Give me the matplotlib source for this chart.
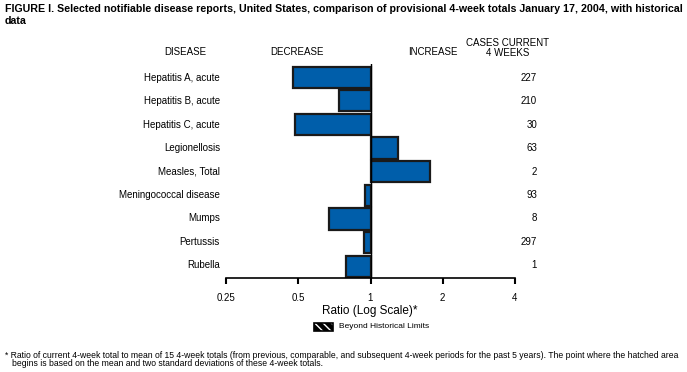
import matplotlib.pyplot as plt
from matplotlib.patches import Rectangle

# Datos del gráfico
diseases = ['Hepatitis A, acute', 'Hepatitis B, acute', 'Hepatitis C, acute',
            'Legionellosis', 'Measles, Total', 'Meningococcal disease',
            'Mumps', 'Pertussis', 'Rubella']
ratios = [0.475, 0.741, 0.485, 1.30, 1.77, 0.953, 0.673, 0.944, 0.793]
cases = [227, 210, 30, 63, 2, 93, 8, 297, 1]
ticks = [0.25, 0.5, 1, 2, 4]
tick_labels = ['0.25', '0.5', '1', '2', '4']

plt.rcParams['font.family'] = ['Liberation Sans', 'DejaVu Sans']
W, H = 687, 372
fig = plt.figure(figsize=(6.87, 3.72), dpi=100)

def fx(px):
    return px / W

def fy(py):
    return 1 - py / H

# Ejes del gráfico de barras (escala log base 2)
ax = fig.add_axes([fx(226), fy(278), fx(515) - fx(226), fy(64) - fy(278)])
ax.set_xscale('log', base=2)
ax.set_xlim(0.25, 4)
ax.set_ylim(8.5, -0.56)
color = '#005EAA'
for i, r in enumerate(ratios):
    left = min(r, 1)
    width = max(r, 1) - left
    ax.barh(i, width, left=left, height=0.9, color=color,
            edgecolor='#1a1a1a', linewidth=1.6)
ax.axvline(1, color='black', linewidth=1.0, zorder=5)
for s in ['top', 'right', 'left']:
    ax.spines[s].set_visible(False)
ax.spines['bottom'].set_linewidth(1.2)
ax.set_yticks([])
ax.set_xticks(ticks)
ax.set_xticklabels(tick_labels)
ax.minorticks_off()
ax.tick_params(axis='x', length=4, width=1.5, labelsize=7, pad=7)

# Etiquetas de enfermedades y casos
for i, (d, c) in enumerate(zip(diseases, cases)):
    y = 78 + 23.4 * i
    fig.text(fx(220), fy(y), d, ha='right', va='center', fontsize=7)
    fig.text(fx(537), fy(y), str(c), ha='right', va='center', fontsize=7)

# Encabezados
fig.text(fx(185), fy(52), 'DISEASE', ha='center', va='center', fontsize=7)
fig.text(fx(297), fy(52), 'DECREASE', ha='center', va='center', fontsize=7)
fig.text(fx(433), fy(52), 'INCREASE', ha='center', va='center', fontsize=7)
fig.text(fx(508), fy(43), 'CASES CURRENT', ha='center', va='center', fontsize=7)
fig.text(fx(508), fy(53), '4 WEEKS', ha='center', va='center', fontsize=7)

# Título
fig.text(fx(5), fy(9), 'FIGURE I. Selected notifiable disease reports, United States, '
         'comparison of provisional 4-week totals January 17, 2004, with historical',
         ha='left', va='center', fontsize=7.65, fontweight='bold')
fig.text(fx(5), fy(21), 'data', ha='left', va='center', fontsize=7.65, fontweight='bold')

# Etiqueta del eje x
fig.text(fx(370), fy(311), 'Ratio (Log Scale)*', ha='center', va='center', fontsize=8.5)

# Leyenda: caja negra con rayado blanco
box = ((fx(314), fy(331)), fx(19), fy(323) - fy(331))
fig.patches.append(Rectangle(*box, transform=fig.transFigure, facecolor='black',
                             edgecolor='white', hatch='\\\\\\\\', linewidth=0))
fig.patches.append(Rectangle(*box, transform=fig.transFigure, facecolor='none',
                             edgecolor='black', linewidth=1.2))
fig.text(fx(339), fy(327), 'Beyond Historical Limits', ha='left', va='center', fontsize=6)

# Nota al pie
fig.text(fx(5), fy(355), '* Ratio of current 4-week total to mean of 15 4-week totals (from previous, '
         'comparable, and subsequent 4-week periods for the past 5 years). The point where the hatched area',
         ha='left', va='center', fontsize=6.2)
fig.text(fx(12), fy(364), 'begins is based on the mean and two standard deviations of these 4-week totals.',
         ha='left', va='center', fontsize=6.2)

fig.savefig('out.png', dpi=100)
